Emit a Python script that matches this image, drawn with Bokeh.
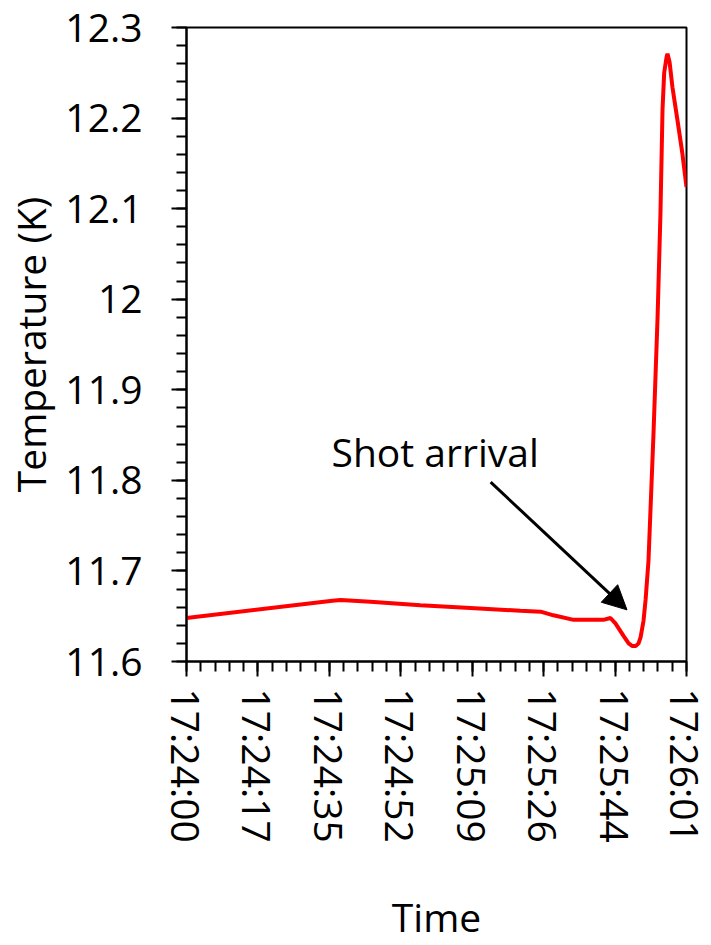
import math
from bokeh.plotting import figure
from bokeh.layouts import row
from bokeh.models import Range1d, FixedTicker, Arrow, NormalHead, Label
from bokeh.embed import file_html
from bokeh.resources import INLINE

# Data: seconds after 17:24:00, temperature in K
time_s = [0, 35.3, 37.3, 44.5, 56.6, 68.7, 80.8, 85.7, 88.8, 93.7, 100.9, 102.6,
          103.8, 105.8, 107.0, 107.9, 108.7, 109.4, 109.9, 110.6, 111.1, 111.8,
          113.0, 114.0, 114.7, 115.2, 115.6, 116.2, 116.4, 116.9, 117.6, 118.8,
          120.0, 121.0]
temp_k = [11.648, 11.667, 11.668, 11.666, 11.662, 11.659, 11.656, 11.655, 11.651,
          11.646, 11.646, 11.648, 11.642, 11.628, 11.620, 11.617, 11.617, 11.620,
          11.627, 11.645, 11.668, 11.711, 11.850, 11.980, 12.095, 12.210, 12.250,
          12.268, 12.271, 12.262, 12.234, 12.198, 12.161, 12.124]

x_tick_labels = ["17:24:00", "17:24:17", "17:24:35", "17:24:52", "17:25:09",
                 "17:25:26", "17:25:44", "17:26:01"]
y_ticks = [11.6, 11.7, 11.8, 11.9, 12.0, 12.1, 12.2, 12.3]
y_tick_labels = ["11.6", "11.7", "11.8", "11.9", "12", "12.1", "12.2", "12.3"]

x_title = "Time"
y_title = "Temperature (K)"

annot_text = "Shot arrival"
annot_text_pos = (35.1, 11.8315)
arrow_start = (73.6, 11.798)
arrow_end = (106.6, 11.657)

FONT = "Open Sans"
FS = "39px"
W, H = 711, 945
TITLE_W = 60
TOP, BOTTOM = 27, 283

x_max = 121.0
x_step = x_max / (len(x_tick_labels) - 1)
x_ticks = [i * x_step for i in range(len(x_tick_labels))]
x_minor = [i * x_step / 5 for i in range(5 * (len(x_tick_labels) - 1) + 1)]
y_minor = [round(11.6 + 0.02 * i, 2) for i in range(36)]

# narrow panel carrying the y-axis title
t = figure(width=TITLE_W, height=H, x_range=Range1d(0, 1), y_range=Range1d(0, 1),
           output_backend="svg", toolbar_location=None,
           min_border_left=0, min_border_right=0, min_border_top=TOP, min_border_bottom=BOTTOM)
t.xaxis.visible = False
t.grid.visible = False
t.outline_line_color = None
t.background_fill_color = "white"
t.border_fill_color = "white"
ty = t.yaxis[0]
ty.ticker = FixedTicker(ticks=[], minor_ticks=[])
ty.major_label_text_font_size = "0px"
ty.major_label_standoff = 0
ty.major_tick_out = 0
ty.major_tick_in = 0
ty.minor_tick_out = 0
ty.minor_tick_in = 0
ty.axis_line_color = None
ty.axis_label = y_title
ty.axis_label_standoff = 0
ty.axis_label_text_font = FONT
ty.axis_label_text_font_size = FS
ty.axis_label_text_font_style = "normal"
ty.axis_label_text_color = "black"

p = figure(width=W - TITLE_W, height=H, x_range=Range1d(0, x_max), y_range=Range1d(11.6, 12.3),
           output_backend="svg", toolbar_location=None,
           min_border_left=186 - TITLE_W, min_border_right=25, min_border_top=TOP,
           min_border_bottom=BOTTOM)

p.line(time_s, temp_k, line_color="#ff0000", line_width=4)

p.xgrid.visible = False
p.ygrid.visible = False
p.outline_line_color = "black"
p.outline_line_width = 2
p.background_fill_color = "white"
p.border_fill_color = "white"

for ax in (p.xaxis[0], p.yaxis[0]):
    ax.axis_line_color = "black"
    ax.axis_line_width = 2
    ax.major_tick_line_color = "black"
    ax.major_tick_line_width = 2
    ax.minor_tick_line_color = "black"
    ax.minor_tick_line_width = 2
    ax.major_tick_in = 0
    ax.minor_tick_in = 0
    ax.major_tick_out = 15
    ax.minor_tick_out = 10
    ax.major_label_text_font = FONT
    ax.major_label_text_font_size = FS
    ax.major_label_text_color = "black"
    ax.axis_label_text_font = FONT
    ax.axis_label_text_font_size = FS
    ax.axis_label_text_font_style = "normal"
    ax.axis_label_text_color = "black"

p.xaxis.ticker = FixedTicker(ticks=x_ticks, minor_ticks=x_minor)
p.xaxis.major_label_overrides = {tk: lab for tk, lab in zip(x_ticks, x_tick_labels)}
p.xaxis.major_label_orientation = -math.pi / 2
p.xaxis.major_label_standoff = 12
p.xaxis.axis_label = x_title
p.xaxis.axis_label_standoff = 44

p.yaxis.ticker = FixedTicker(ticks=y_ticks, minor_ticks=y_minor)
p.yaxis.major_label_overrides = {tk: lab for tk, lab in zip(y_ticks, y_tick_labels)}
p.yaxis.major_label_standoff = 29

p.add_layout(Label(x=annot_text_pos[0], y=annot_text_pos[1], text=annot_text,
                   text_font=FONT, text_font_size=FS, text_color="black",
                   text_baseline="alphabetic", text_align="left"))
p.add_layout(Arrow(x_start=arrow_start[0], y_start=arrow_start[1],
                   x_end=arrow_end[0], y_end=arrow_end[1],
                   line_color="black", line_width=3,
                   end=NormalHead(size=24, fill_color="black", line_color="black")))

layout = row(t, p, spacing=0)
open("out.html", "w").write(file_html(layout, INLINE))
